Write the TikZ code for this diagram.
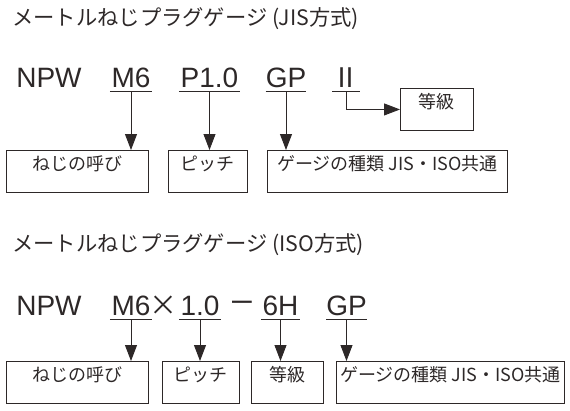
\documentclass[tikz,border=0pt]{standalone}
\usepackage{fontspec}
\setmainfont{Liberation Sans}
\newfontfamily\jp{Noto Sans CJK JP}
\usetikzlibrary{arrows.meta}
\definecolor{ink}{RGB}{45,40,40}
\tikzset{
  lbl/.style={font=\fontsize{28}{28}\selectfont, text=ink, text height=20pt, text depth=0pt,
    inner xsep=0pt, inner ysep=4.5pt, anchor=base, minimum width=#1},
  lbl/.default=0pt,
  ttl/.style={font=\jp\fontsize{21.3}{21.3}\selectfont, text=ink, anchor=base west, inner sep=0pt},
  boxn/.style={draw=ink, line width=0.9pt, text=ink, font=\jp\fontsize{18}{18}\selectfont,
    inner sep=0pt, text height=20.5pt, text depth=21.5pt, anchor=north west, minimum width=#1},
  uline/.style={draw=ink, line width=0.9pt},
  arr/.style={draw=ink, line width=0.9pt, -{Triangle[length=16pt,width=12pt]}},
  sym/.style={font=\jp\fontsize{28}{28}\selectfont, text=ink, anchor=base, inner sep=0pt}
}
\begin{document}
\begin{tikzpicture}[x=1pt,y=-1pt]
\useasboundingbox (0,0) rectangle (570,410);
% ---------- JIS ----------
\node[ttl] (title1) at (12,25) {メートルねじプラグゲージ (JIS方式)};
\node[lbl] (npw1) at (49,87) {NPW};
\node[lbl=42pt] (m6a) at (131,87) {M6};
\node[lbl=61pt] (p10) at (209.5,87) {P1.0};
\node[lbl=38pt] (gpa) at (286,87) {GP};
\node[lbl=24pt, font=\jp\fontsize{27}{27}\selectfont] (iia) at (346,87) {Ⅱ};
\draw[uline] (m6a.south west) -- (m6a.south east);
\draw[uline] (p10.south west) -- (p10.south east);
\draw[uline] (gpa.south west) -- (gpa.south east);
\draw[uline] (iia.south west) -- (iia.south east);
\node[boxn=142pt] (box1a) at (6,150) {ねじの呼び};
\node[boxn=79pt] (box2a) at (168,150) {ピッチ};
\node[boxn=240pt] (box3a) at (267,150) {ゲージの種類 JIS・ISO共通};
\node[boxn=73pt] (kyua) at (400,88) {等級};
\draw[arr] (m6a.south) -- (m6a.south |- box1a.north);
\draw[arr] (p10.south) -- (p10.south |- box2a.north);
\draw[arr] (gpa.south) -- (gpa.south |- box3a.north);
\draw[arr] (iia.south) |- (kyua.west);
% ---------- ISO ----------
\node[ttl] (title2) at (12,251) {メートルねじプラグゲージ (ISO方式)};
\node[lbl] (npw2) at (49,315) {NPW};
\node[lbl=42pt] (m6b) at (131,315) {M6};
\node[sym] (times) at (163,315) {×};
\node[lbl=42pt] (onezero) at (200,315) {1.0};
\node[font=\fontsize{28}{28}\selectfont, text=ink, anchor=base, inner sep=0pt] (minus) at (242,315) {\raisebox{3pt}{\scalebox{1.45}[1.1]{−}}};
\node[lbl=39pt] (sixh) at (280.5,315) {6H};
\node[lbl=39pt] (gpb) at (346.5,315) {GP};
\draw[uline] (m6b.south west) -- (m6b.south east);
\draw[uline] (onezero.south west) -- (onezero.south east);
\draw[uline] (sixh.south west) -- (sixh.south east);
\draw[uline] (gpb.south west) -- (gpb.south east);
\node[boxn=142pt] (box1b) at (6,361) {ねじの呼び};
\node[boxn=77pt] (box2b) at (162,361) {ピッチ};
\node[boxn=72pt] (box3b) at (251,361) {等級};
\node[boxn=228pt] (box4b) at (336,361) {ゲージの種類 JIS・ISO共通};
\draw[arr] (m6b.south) -- (m6b.south |- box1b.north);
\draw[arr] (onezero.south) -- (onezero.south |- box2b.north);
\draw[arr] (sixh.south) -- (sixh.south |- box3b.north);
\draw[arr] (gpb.south) -- (gpb.south |- box4b.north);
\end{tikzpicture}
\end{document}
